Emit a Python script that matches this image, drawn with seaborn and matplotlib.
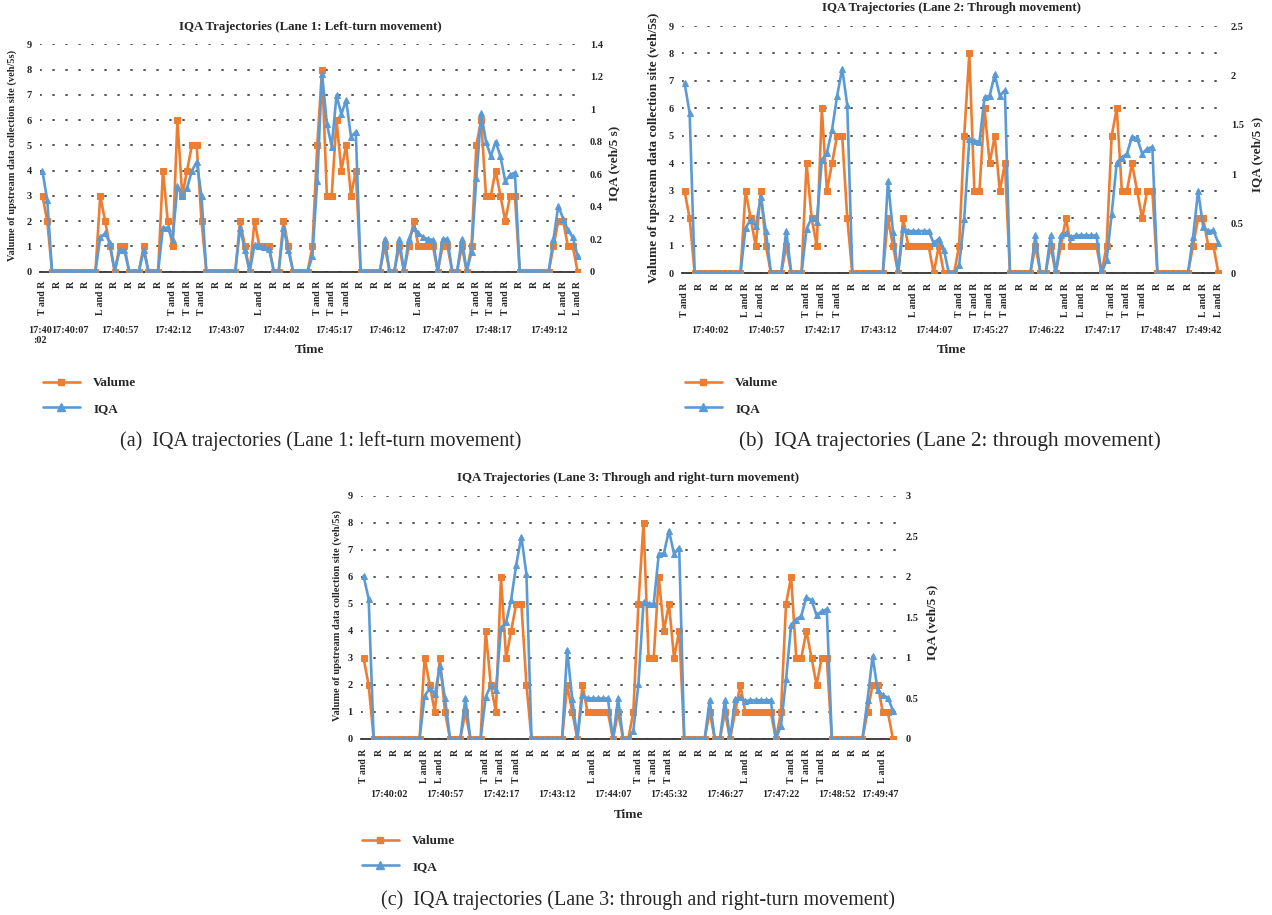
import numpy as np
import pandas as pd
import matplotlib
matplotlib.use("Agg")
import matplotlib.pyplot as plt
from matplotlib.lines import Line2D
import seaborn as sns

sns.set_theme(style="white")
plt.rcParams['font.family'] = ['Liberation Serif', 'DejaVu Serif']

ORANGE = "#ED7D31"
BLUE = "#5B9BD5"

# ---------------- data ----------------
# Lane 1: left-turn movement (112 samples)
lane1_valume = [3, 2, 0, 0, 0, 0, 0, 0, 0, 0,
                0, 0, 3, 2, 1, 0, 1, 1, 0, 0,
                0, 1, 0, 0, 0, 4, 2, 1, 6, 3,
                4, 5, 5, 2, 0, 0, 0, 0, 0, 0,
                0, 2, 1, 0, 2, 1, 1, 1, 0, 0,
                2, 1, 0, 0, 0, 0, 1, 5, 8, 3,
                3, 6, 4, 5, 3, 4, 0, 0, 0, 0,
                0, 1, 0, 0, 1, 0, 1, 2, 1, 1,
                1, 1, 0, 1, 1, 0, 0, 1, 0, 1,
                5, 6, 3, 3, 4, 3, 2, 3, 3, 0,
                0, 0, 0, 0, 0, 0, 1, 2, 2, 1,
                1, 0]
lane1_iqa = [0.62, 0.44, 0, 0, 0, 0, 0, 0, 0, 0,
             0, 0, 0.21, 0.235, 0.175, 0, 0.13, 0.13, 0, 0,
             0, 0.13, 0, 0, 0, 0.27, 0.27, 0.195, 0.525, 0.465,
             0.515, 0.62, 0.675, 0.465, 0, 0, 0, 0, 0, 0,
             0, 0.27, 0.13, 0, 0.165, 0.155, 0.148, 0.14, 0, 0,
             0.27, 0.13, 0, 0, 0, 0, 0.095, 0.56, 1.22, 0.91,
             0.77, 1.085, 0.97, 1.055, 0.83, 0.86, 0, 0, 0, 0,
             0, 0.2, 0, 0, 0.2, 0, 0.2, 0.27, 0.235, 0.21,
             0.2, 0.195, 0, 0.2, 0.2, 0, 0, 0.2, 0, 0.12,
             0.575, 0.975, 0.8, 0.71, 0.8, 0.71, 0.555, 0.595, 0.61, 0,
             0, 0, 0, 0, 0, 0, 0.2, 0.405, 0.325, 0.255,
             0.21, 0.095]
lane1_moves = ["T and R", "R", "R", "R", "L and R", "R", "R", "R", "R",
               "T and R", "T and R", "T and R", "R", "R", "R", "L and R",
               "R", "R", "R", "T and R", "T and R", "T and R", "R", "R",
               "R", "R", "L and R", "R", "R", "R", "T and R", "T and R",
               "T and R", "R", "R", "R", "L and R", "L and R"]
lane1_times = ["17:40\n:02", "17:40:07", "17:40:57", "17:42:12", "17:43:07",
               "17:44:02", "17:45:17", "17:46:12", "17:47:07", "17:48:17",
               "17:49:12"]
lane1_time_idx = [-0.5, 5.7, 16, 27, 38, 49.5, 60.5, 71.5, 82.5, 93.5, 105]

# Lane 2: through movement (106 samples)
lane2_valume = [3, 2, 0, 0, 0, 0, 0, 0, 0, 0,
                0, 0, 3, 2, 1, 3, 1, 0, 0, 0,
                1, 0, 0, 0, 4, 2, 1, 6, 3, 4,
                5, 5, 2, 0, 0, 0, 0, 0, 0, 0,
                2, 1, 0, 2, 1, 1, 1, 1, 1, 0,
                1, 0, 0, 0, 1, 5, 8, 3, 3, 6,
                4, 5, 3, 4, 0, 0, 0, 0, 0, 1,
                0, 0, 1, 0, 1, 2, 1, 1, 1, 1,
                1, 1, 0, 1, 5, 6, 3, 3, 4, 3,
                2, 3, 3, 0, 0, 0, 0, 0, 0, 0,
                1, 2, 2, 1, 1, 0]
lane2_iqa = [1.925, 1.62, 0, 0, 0, 0, 0, 0, 0, 0,
             0, 0, 0.458, 0.54, 0.478, 0.77, 0.424, 0, 0, 0,
             0.427, 0, 0, 0, 0.45, 0.56, 0.52, 1.145, 1.22, 1.45,
             1.79, 2.07, 1.70, 0, 0, 0, 0, 0, 0, 0,
             0.935, 0.42, 0, 0.45, 0.427, 0.427, 0.427, 0.427, 0.427, 0.305,
             0.35, 0.237, 0, 0, 0.08, 0.55, 1.355, 1.34, 1.33, 1.78,
             1.795, 2.01, 1.795, 1.85, 0, 0, 0, 0, 0, 0.383,
             0, 0, 0.383, 0, 0.383, 0.406, 0.366, 0.383, 0.383, 0.383,
             0.383, 0.383, 0, 0.13, 0.6, 1.12, 1.17, 1.21, 1.38, 1.365,
             1.21, 1.26, 1.275, 0, 0, 0, 0, 0, 0, 0,
             0.366, 0.833, 0.467, 0.427, 0.434, 0.305]
lane2_moves = ["T and R", "R", "R", "R", "L and R", "L and R", "R", "R",
               "T and R", "T and R", "T and R", "R", "R", "R", "R", "L and R",
               "R", "R", "T and R", "T and R", "T and R", "T and R", "R", "R",
               "R", "L and R", "L and R", "R", "T and R", "T and R", "T and R",
               "R", "R", "R", "L and R", "L and R"]
lane2_times = ["17:40:02", "17:40:57", "17:42:17", "17:43:12", "17:44:07",
               "17:45:27", "17:46:22", "17:47:17", "17:48:47", "17:49:42"]
lane2_time_idx = [5, 16, 27, 38, 49, 60, 71, 82, 93, 102]

# Lane 3: through and right-turn movement (105 samples)
lane3_valume = [3, 2, 0, 0, 0, 0, 0, 0, 0, 0,
                0, 0, 3, 2, 1, 3, 1, 0, 0, 0,
                1, 0, 0, 0, 4, 2, 1, 6, 3, 4,
                5, 5, 2, 0, 0, 0, 0, 0, 0, 0,
                2, 1, 0, 2, 1, 1, 1, 1, 1, 0,
                1, 0, 0, 1, 5, 8, 3, 3, 6, 4,
                5, 3, 4, 0, 0, 0, 0, 0, 1, 0,
                0, 1, 0, 1, 2, 1, 1, 1, 1, 1,
                1, 0, 1, 5, 6, 3, 3, 4, 3, 2,
                3, 3, 0, 0, 0, 0, 0, 0, 0, 1,
                2, 2, 1, 1, 0]
lane3_iqa = [2.01, 1.73, 0, 0, 0, 0, 0, 0, 0, 0,
             0, 0, 0.53, 0.625, 0.55, 0.9, 0.5, 0, 0, 0,
             0.5, 0, 0, 0, 0.52, 0.66, 0.6, 1.365, 1.44, 1.72,
             2.15, 2.495, 2.03, 0, 0, 0, 0, 0, 0, 0,
             1.1, 0.49, 0, 0.54, 0.5, 0.5, 0.5, 0.5, 0.5, 0,
             0.5, 0, 0, 0.1, 0.68, 1.69, 1.67, 1.665, 2.28, 2.29,
             2.57, 2.28, 2.36, 0, 0, 0, 0, 0, 0.48, 0,
             0, 0.48, 0, 0.49, 0.514, 0.47, 0.477, 0.477, 0.477, 0.477,
             0.477, 0, 0.165, 0.735, 1.41, 1.47, 1.52, 1.75, 1.71, 1.525,
             1.575, 1.6, 0, 0, 0, 0, 0, 0, 0, 0.48,
             1.02, 0.6, 0.54, 0.51, 0.35]
lane3_moves = ["T and R", "R", "R", "R", "L and R", "L and R", "R", "R",
               "T and R", "T and R", "T and R", "R", "R", "R", "R", "L and R",
               "R", "R", "T and R", "T and R", "T and R", "R", "R", "R", "R",
               "L and R", "R", "R", "T and R", "T and R", "T and R", "R", "R",
               "R", "L and R"]
lane3_times = ["17:40:02", "17:40:57", "17:42:17", "17:43:12", "17:44:07",
               "17:45:32", "17:46:27", "17:47:22", "17:48:52", "17:49:47"]
lane3_time_idx = [5, 16, 27, 38, 49, 60, 71, 82, 93, 101.5]

# ---------------- figure ----------------
W, H = 1272, 915
fig = plt.figure(figsize=(W / 100, H / 100), dpi=100)


def ftext(x, y, s, **kw):
    fig.text(x / W, 1 - y / H, s, **kw)


def draw_lane(left, right, top, bottom, valume, iqa, moves, times, time_idx,
              iqa_max, iqa_step, title, title_y, ylab_x, rlab_x, time_top,
              xlab_y, ylab_size, leg_x, leg_y, caption, cap_x, cap_y, cap_size):
    ax = fig.add_axes([left / W, 1 - bottom / H, (right - left) / W, (bottom - top) / H])
    n = len(valume)
    df = pd.DataFrame({"idx": np.arange(n), "Valume": valume, "IQA": iqa})

    ax.yaxis.grid(True, linestyle=(0, (0.6, 6.6)), color="#444444", linewidth=1.3,
                  dash_capstyle="round")
    sns.lineplot(data=df, x="idx", y="Valume", ax=ax, color=ORANGE, marker="s",
                 markersize=4.6, markeredgecolor=ORANGE, linewidth=1.9, legend=False)
    ax2 = ax.twinx()
    sns.lineplot(data=df, x="idx", y="IQA", ax=ax2, color=BLUE, marker="^",
                 markersize=5, markeredgecolor=BLUE, linewidth=1.9, legend=False)

    ax.set_xlim(-0.5, n - 0.5)
    ax.set_ylim(0, 9)
    ax2.set_ylim(0, iqa_max)
    ax.set_xlabel("")
    ax.set_ylabel("")
    ax2.set_ylabel("")

    ax.set_yticks(range(10))
    ax.set_yticklabels([str(v) for v in range(10)], fontsize=7.5, fontweight="bold")
    rt = np.arange(0, iqa_max + 1e-9, iqa_step)
    ax2.set_yticks(rt)
    ax2.set_yticklabels([f"{v:g}" for v in rt], fontsize=7.5, fontweight="bold")
    ax.set_xticks(range(0, n, 3))
    ax.set_xticklabels(moves, rotation=90, fontsize=7, fontweight="bold")
    ax.tick_params(axis="x", length=0, pad=7)
    ax.tick_params(axis="y", length=0, pad=6)
    ax2.tick_params(axis="y", length=0, pad=7)

    for s in ["top", "left", "right"]:
        ax.spines[s].set_visible(False)
    for s in ax2.spines.values():
        s.set_visible(False)
    ax.spines["bottom"].set_color("#333333")
    ax.spines["bottom"].set_linewidth(1.3)
    ax.spines["bottom"].set_zorder(1)

    ty = (bottom - time_top) / (bottom - top)
    for lab, i in zip(times, time_idx):
        ax.text(i, ty, lab, transform=ax.get_xaxis_transform(), ha="center",
                va="top", fontsize=7.3, fontweight="bold", linespacing=1.1)

    cx = (left + right) / 2
    ftext(cx, title_y, title, ha="center", va="center", fontsize=9.3, fontweight="bold")
    ftext(cx, xlab_y, "Time", ha="center", va="center", fontsize=9.5, fontweight="bold")
    ftext(ylab_x, (top + bottom) / 2 - 2,
          "Valume of upstream data collection site (veh/5s)",
          rotation=90, ha="center", va="center", fontsize=ylab_size, fontweight="bold")
    ftext(rlab_x, (top + bottom) / 2 + 5, "IQA (veh/5 s)", rotation=90,
          ha="center", va="center", fontsize=9.5, fontweight="bold")

    handles = [Line2D([], [], color=ORANGE, marker="s", markersize=5, linewidth=1.9),
               Line2D([], [], color=BLUE, marker="^", markersize=5.5, linewidth=1.9)]
    fig.legend(handles, ["Valume", "IQA"], loc="upper left",
               bbox_to_anchor=(leg_x / W, 1 - leg_y / H), frameon=False,
               prop={"weight": "bold", "size": 9.5}, handlelength=2.8,
               handletextpad=1.0, labelspacing=1.0, borderpad=0, borderaxespad=0)
    ftext(cap_x, cap_y, caption, ha="center", va="center", fontsize=cap_size)


draw_lane(40, 580, 44.3, 271.5, lane1_valume, lane1_iqa, lane1_moves,
          lane1_times, lane1_time_idx, 1.4, 0.2,
          "IQA Trajectories (Lane 1: Left-turn movement)", 27, 12, 614, 326,
          350, 7.5, 43, 377,
          "(a)  IQA trajectories (Lane 1: left-turn movement)", 321, 441, 14.5)
draw_lane(682, 1221, 26, 273.3, lane2_valume, lane2_iqa, lane2_moves,
          lane2_times, lane2_time_idx, 2.5, 0.5,
          "IQA Trajectories (Lane 2: Through movement)", 8, 654, 1257, 326,
          350, 9.5, 685, 377,
          "(b)  IQA trajectories (Lane 2: through movement)", 950, 441, 15.3)
draw_lane(361, 895.5, 495.7, 739, lane3_valume, lane3_iqa, lane3_moves,
          lane3_times, lane3_time_idx, 3, 0.5,
          "IQA Trajectories (Lane 3: Through and right-turn movement)", 478,
          337, 932, 790, 815, 7.5, 362, 835,
          "(c)  IQA trajectories (Lane 3: through and right-turn movement)",
          638, 900, 14.5)

fig.savefig("out.png", dpi=100)
